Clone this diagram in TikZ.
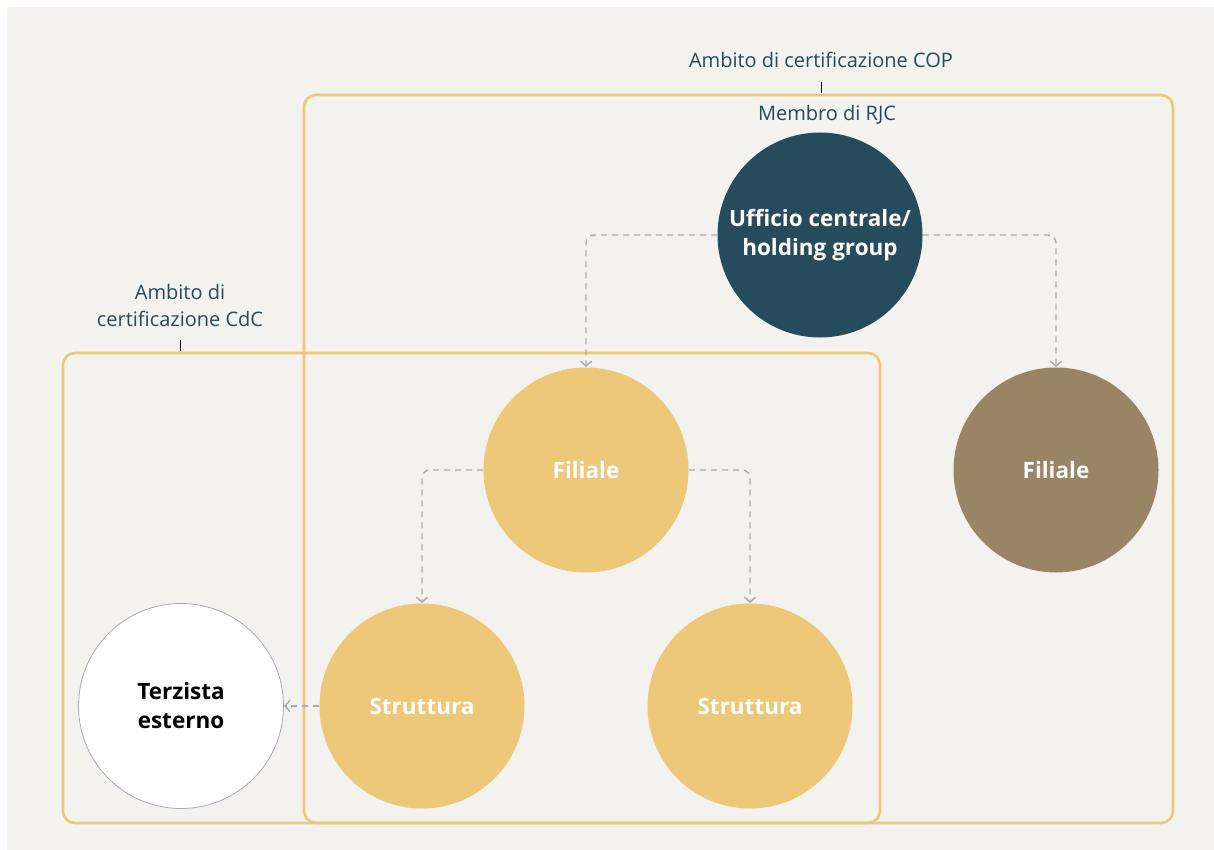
\documentclass[tikz,border=0pt]{standalone}
\usepackage{fontspec}
\setmainfont{Open Sans}
\usetikzlibrary{arrows.meta}
\definecolor{bgGray}{HTML}{F3F2EE}
\definecolor{rjcTeal}{HTML}{264B5D}
\definecolor{scopeGold}{HTML}{EDC878}
\definecolor{brownFil}{HTML}{998566}
\definecolor{flowGray}{HTML}{A9ABB2}
\begin{document}
\begin{tikzpicture}[x=1pt,y=-1pt,thick,
    main node/.style={circle,minimum size=205pt,inner sep=0pt,align=center,font=\bfseries\fontsize{22.5}{29}\selectfont,text=white},
    scope box/.style={draw=scopeGold,line width=2.6pt,rounded corners=12pt},
    flow/.style={->,>={Straight Barb[length=5pt,width=11pt]},draw=flowGray,line width=1.4pt,dash pattern=on 6pt off 5pt,rounded corners=8pt},
    scope label/.style={text=rjcTeal,font=\fontsize{20}{27}\selectfont,align=center}]
    \useasboundingbox (0,0) rectangle (1214,850);
    \fill[white] (0,0) rectangle (1214,850);
    \fill[bgGray] (7,7) rectangle (1214,850);
    % certification scopes
    \draw[scope box] (304,95) rectangle (1173,823);
    \draw[scope box] (63,353) rectangle (880,823);
    \node[scope label] (cop) at (821,60) {Ambito di certificazione COP};
    \node[scope label] (cdc) at (180,305) {Ambito di\\certificazione CdC};
    \node[scope label] (rjc) at (827,115) {Membro di RJC};
    \coordinate (copTop) at (821,82);
    \coordinate (copEnd) at (821,93);
    \coordinate (cdcTop) at (180,340);
    \coordinate (cdcEnd) at (180,351);
    \draw[line width=1pt] (copTop) -- (copEnd);
    \draw[line width=1pt] (cdcTop) -- (cdcEnd);
    % circles
    \node[main node] (uff) [fill=rjcTeal] at (820,235) {Ufficio centrale/\\holding group};
    \node[main node] (fil1) [below of=uff, xshift=-234pt, node distance=235pt, fill=scopeGold] {Filiale};
    \node[main node] (fil2) [below of=uff, xshift=236pt, node distance=235pt, fill=brownFil] {Filiale};
    \node[main node] (str1) [below of=fil1, xshift=-164pt, node distance=236pt, fill=scopeGold] {Struttura};
    \node[main node] (str2) [right of=str1, node distance=328pt, fill=scopeGold] {Struttura};
    \node[main node] (terz) [left of=str1, node distance=241pt, fill=white, draw=flowGray, line width=0.8pt, text=black] {Terzista\\esterno};
    % links
    \draw[flow] (uff.west) -| (fil1.north);
    \draw[flow] (uff.east) -| (fil2.north);
    \draw[flow] (fil1.west) -| (str1.north);
    \draw[flow] (fil1.east) -| (str2.north);
    \draw[flow] (str1.west) -- (terz.east);
\end{tikzpicture}
\end{document}
